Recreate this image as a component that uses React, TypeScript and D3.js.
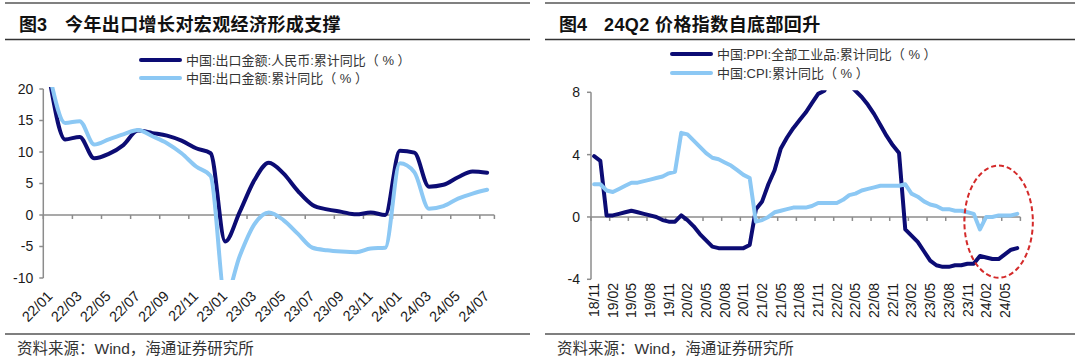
import React from "react";
import * as d3 from "d3";

// 图3 出口金额累计同比
const exportMonths = [
  "22/01", "22/02", "22/03", "22/04", "22/05", "22/06", "22/07", "22/08", "22/09", "22/10", "22/11", "22/12",
  "23/01", "23/02", "23/03", "23/04", "23/05", "23/06", "23/07", "23/08", "23/09", "23/10", "23/11", "23/12",
  "24/01", "24/02", "24/03", "24/04", "24/05", "24/06", "24/07",
];
const exportRmb = [20.6, 12.0, 12.4, 9.0, 9.7, 11.1, 13.4, 13.0, 12.6, 11.8, 10.6, 9.8, -4.2, 0.5, 5.5, 8.3, 6.6, 3.8, 1.6, 0.9, 0.5, 0.1, 0.4, 0.0, 10.2, 9.9, 4.5, 4.8, 6.0, 6.9, 6.7];
const exportUsd = [21.5, 14.6, 14.9, 11.2, 12.0, 12.8, 13.5, 12.5, 11.4, 9.8, 7.7, 6.2, -13.0, -6.5, -1.5, 0.4, -0.8, -3.0, -5.2, -5.6, -5.8, -5.9, -5.3, -5.2, 8.2, 6.8, 1.0, 1.4, 2.6, 3.4, 4.0];
const exportTicks = [20, 15, 10, 5, 0, -5, -10];

// 图4 PPI / CPI 累计同比
const priceMonths = [
  "18/11", "18/12",
  "19/01", "19/02", "19/03", "19/04", "19/05", "19/06", "19/07", "19/08", "19/09", "19/10", "19/11", "19/12",
  "20/01", "20/02", "20/03", "20/04", "20/05", "20/06", "20/07", "20/08", "20/09", "20/10", "20/11", "20/12",
  "21/01", "21/02", "21/03", "21/04", "21/05", "21/06", "21/07", "21/08", "21/09", "21/10", "21/11", "21/12",
  "22/01", "22/02", "22/03", "22/04", "22/05", "22/06", "22/07", "22/08", "22/09", "22/10", "22/11", "22/12",
  "23/01", "23/02", "23/03", "23/04", "23/05", "23/06", "23/07", "23/08", "23/09", "23/10", "23/11", "23/12",
  "24/01", "24/02", "24/03", "24/04", "24/05", "24/06", "24/07",
];
const ppi = [
  3.9, 3.6,
  0.1, 0.1, 0.2, 0.3, 0.4, 0.3, 0.2, 0.1, 0.0, -0.2, -0.3, -0.3,
  0.1, -0.2, -0.6, -1.1, -1.5, -1.9, -2.0, -2.0, -2.0, -2.0, -2.0, -1.8,
  0.5, 1.0, 2.1, 3.0, 4.4, 5.1, 5.7, 6.2, 6.7, 7.3, 7.9, 8.1,
  9.1, 8.9, 8.7, 8.5, 8.1, 7.7, 7.2, 6.6, 5.9, 5.2, 4.6, 4.1,
  -0.8, -1.2, -1.6, -2.2, -2.8, -3.1, -3.2, -3.2, -3.1, -3.1, -3.0, -3.0,
  -2.5, -2.6, -2.7, -2.7, -2.4, -2.1, -2.0,
];
const cpi = [
  2.1, 2.1,
  1.7, 1.6, 1.8, 2.0, 2.2, 2.2, 2.3, 2.4, 2.5, 2.6, 2.8, 2.9,
  5.4, 5.3, 4.9, 4.5, 4.1, 3.8, 3.7, 3.5, 3.3, 3.0, 2.7, 2.5,
  -0.3, -0.2, 0.0, 0.3, 0.4, 0.5, 0.6, 0.6, 0.6, 0.7, 0.9, 0.9,
  0.9, 0.9, 1.1, 1.4, 1.5, 1.7, 1.8, 1.9, 2.0, 2.0, 2.0, 2.0,
  2.1, 1.5, 1.3, 1.0, 0.8, 0.7, 0.5, 0.5, 0.4, 0.4, 0.3, 0.2,
  -0.8, 0.0, 0.0, 0.1, 0.1, 0.1, 0.2,
];
const priceTicks = [8, 4, 0, -4];

const DARK = "#0c0c74";
const LIGHT = "#8cc8f4";
const AXIS = "#8c8c8c";
const NUM_FONT = "'Liberation Sans', Arial, 'Noto Sans CJK SC', sans-serif";
const CJK_FONT = "'Liberation Sans', 'Noto Sans CJK SC', sans-serif";

function Frame({ x0, x1, fig, title, titleX }: { x0: number; x1: number; fig: string; title: string; titleX: number }) {
  return (
    <g>
      <line x1={x0} x2={x1} y1={3} y2={3} stroke="#808080" strokeWidth={2} />
      <line x1={x0} x2={x1} y1={39.5} y2={39.5} stroke="#333" strokeWidth={1.5} />
      <line x1={x0} x2={x1} y1={334} y2={334} stroke="#555" strokeWidth={1.5} />
      <text x={x0 + 14} y={31} fontFamily={CJK_FONT} fontWeight="bold" fontSize={18} fill="#111">{fig}</text>
      <text x={titleX} y={31} fontFamily={CJK_FONT} fontWeight="bold" fontSize={18} fill="#111" letterSpacing={0.4}>{title}</text>
      <text x={x0 + 12} y={354} fontFamily={CJK_FONT} fontSize={15.5} fill="#333">资料来源：Wind，海通证券研究所</text>
    </g>
  );
}

function Legend({ x, ys, labels }: { x: number; ys: number[]; labels: string[] }) {
  const colors = [DARK, LIGHT];
  return (
    <g>
      {labels.map((l, i) => (
        <g key={l}>
          <line x1={x} x2={x + 39} y1={ys[i]} y2={ys[i]} stroke={colors[i]} strokeWidth={4} strokeLinecap="round" />
          <text x={x + 45} y={ys[i]} dy="0.35em" fontFamily={CJK_FONT} fontSize={13} fill="#333">{l}</text>
        </g>
      ))}
    </g>
  );
}

function ExportChart() {
  const x = d3.scaleBand<string>().domain(exportMonths).range([43.3, 494.4]).padding(0);
  const y = d3.scaleLinear().domain([-10, 20]).range([278, 89]);
  const bw = x.bandwidth();
  const cx = (i: number) => (x(exportMonths[i]) as number) + bw / 2;
  const line = d3.line<number>().x((_, i) => cx(i)).y((d) => y(d)).curve(d3.curveMonotoneX);
  const tickIdx = d3.range(0, exportMonths.length + 1, 2).concat(exportMonths.length % 2 ? [exportMonths.length] : []);
  const [r0, r1] = x.range();
  return (
    <g>
      <defs>
        <clipPath id="clipL">
          <rect x={r0} y={y(20) - 2} width={r1 - r0 + 4} height={y(-10) - y(20) + 4} />
        </clipPath>
      </defs>
      <line x1={r0} x2={r0} y1={y(20)} y2={y(-10)} stroke={AXIS} strokeWidth={1.5} />
      {exportTicks.map((t) => (
        <g key={t}>
          <line x1={r0 - 4} x2={r0} y1={y(t)} y2={y(t)} stroke={AXIS} strokeWidth={1.5} />
          <text x={r0 - 10} y={y(t)} dy="0.35em" textAnchor="end" fontFamily={NUM_FONT} fontSize={14} fill="#1a1a1a">{t}</text>
        </g>
      ))}
      <line x1={r0} x2={r1} y1={y(0)} y2={y(0)} stroke={AXIS} strokeWidth={1.5} />
      {tickIdx.map((k) => (
        <line key={k} x1={r0 + k * bw} x2={r0 + k * bw} y1={y(0)} y2={y(0) + 4} stroke={AXIS} strokeWidth={1.5} />
      ))}
      {exportMonths.map((m, i) =>
        i % 2 === 0 ? (
          <text key={m} transform={`translate(${cx(i) + 3},${297}) rotate(-45)`} textAnchor="end" fontFamily={NUM_FONT} fontSize={14.5} fill="#1a1a1a">{m}</text>
        ) : null
      )}
      <g clipPath="url(#clipL)" fill="none" strokeWidth={4} strokeLinejoin="round" strokeLinecap="round">
        <path d={line(exportRmb) as string} stroke={DARK} />
        <path d={line(exportUsd) as string} stroke={LIGHT} />
      </g>
      <Legend x={141} ys={[60, 78]} labels={["中国:出口金额:人民币:累计同比（ % ）", "中国:出口金额:累计同比（ % ）"]} />
    </g>
  );
}

function PriceChart() {
  const x = d3.scaleBand<string>().domain(priceMonths).range([591, 1020.4]).padding(0);
  const y = d3.scaleLinear().domain([-4, 8]).range([279.3, 92.3]);
  const bw = x.bandwidth();
  const cx = (i: number) => (x(priceMonths[i]) as number) + bw / 2;
  const line = d3.line<number>().x((_, i) => cx(i)).y((d) => y(d));
  const tickIdx = d3.range(0, priceMonths.length + 1, 3);
  const [r0, r1] = x.range();
  return (
    <g>
      <defs>
        <clipPath id="clipR">
          <rect x={r0} y={y(8) - 2} width={r1 - r0 + 4} height={y(-4) - y(8) + 4} />
        </clipPath>
      </defs>
      <line x1={r0} x2={r0} y1={y(8)} y2={y(-4)} stroke={AXIS} strokeWidth={1.5} />
      {priceTicks.map((t) => (
        <g key={t}>
          <line x1={r0 - 4} x2={r0} y1={y(t)} y2={y(t)} stroke={AXIS} strokeWidth={1.5} />
          <text x={r0 - 11} y={y(t)} dy="0.35em" textAnchor="end" fontFamily={NUM_FONT} fontSize={14} fill="#1a1a1a">{t}</text>
        </g>
      ))}
      <line x1={r0} x2={r1} y1={y(0)} y2={y(0)} stroke={AXIS} strokeWidth={1.5} />
      {tickIdx.map((k) => (
        <line key={k} x1={r0 + k * bw} x2={r0 + k * bw} y1={y(0)} y2={y(0) + 4} stroke={AXIS} strokeWidth={1.5} />
      ))}
      {priceMonths.map((m, i) =>
        i % 3 === 0 ? (
          <text key={m} transform={`translate(${cx(i) + 5},${283}) rotate(-90)`} textAnchor="end" fontFamily={NUM_FONT} fontSize={14} fill="#1a1a1a">{m}</text>
        ) : null
      )}
      <g clipPath="url(#clipR)" fill="none" strokeWidth={4} strokeLinejoin="round" strokeLinecap="round">
        <path d={line(ppi) as string} stroke={DARK} />
        <path d={line(cpi) as string} stroke={LIGHT} />
      </g>
      <ellipse cx={cx(priceMonths.indexOf("24/04"))} cy={y(-0.3)} rx={bw * 5.5} ry={y(0) - y(3.6)} fill="none" stroke="#d42a2a" strokeWidth={2} strokeDasharray="5,3" />
      <Legend x={672} ys={[54, 73]} labels={["中国:PPI:全部工业品:累计同比（ % ）", "中国:CPI:累计同比（ % ）"]} />
    </g>
  );
}

export default function App() {
  return (
    <svg width={1080} height={358} style={{ position: "absolute", left: 0, top: 0, background: "#fff" }}>
      <rect width={1080} height={358} fill="#fff" />
      <Frame x0={5} x1={530} fig="图3" title="今年出口增长对宏观经济形成支撑" titleX={65} />
      <Frame x0={545} x1={1075} fig="图4" title="24Q2 价格指数自底部回升" titleX={604} />
      <ExportChart />
      <PriceChart />
    </svg>
  );
}
